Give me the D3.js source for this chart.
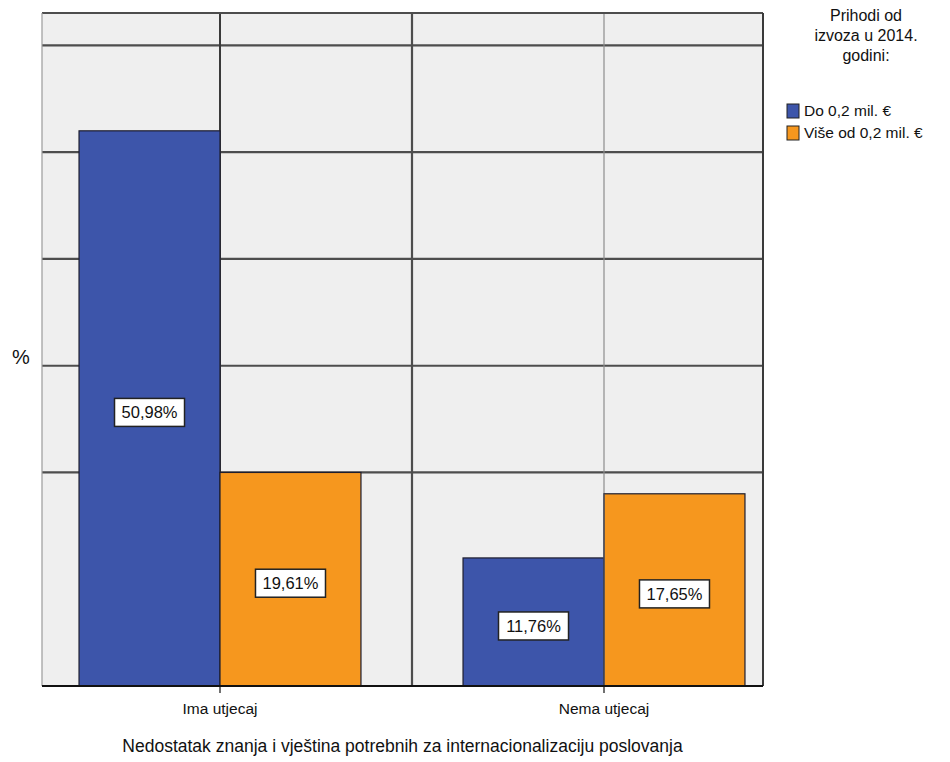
<!DOCTYPE html>
<html>
<head>
<meta charset="utf-8">
<script src="https://cdn.jsdelivr.net/npm/d3@7/dist/d3.min.js"></script>
<style>
  html, body { margin: 0; padding: 0; background: #ffffff; }
  svg { display: block; font-family: "Liberation Sans", Arial, sans-serif; }
</style>
</head>
<body>
<div id="chart"></div>
<script>
const categories = ["Ima utjecaj", "Nema utjecaj"];
const seriesNames = ["Do 0,2 mil. €", "Više od 0,2 mil. €"];
const seriesDo = [50.98, 11.76];
const seriesVise = [19.61, 17.65];
const valueLabels = [["50,98%", "11,76%"], ["19,61%", "17,65%"]];
const gridValues = [19.61, 29.41, 39.22, 49.02, 58.82];
const yMax = 61.8;
const xTitle = "Nedostatak znanja i vještina potrebnih za internacionalizaciju poslovanja";
const yTitle = "%";
const legendTitle = ["Prihodi od", "izvoza u 2014.", "godini:"];
const colors = ["#3d55aa", "#f6971e"];

const W = 950, H = 762;
const frame = { left: 42, right: 763, top: 13, bottom: 686 };

const svg = d3.select("#chart").append("svg").attr("width", W).attr("height", H);

const x = d3.scaleBand().domain(categories).range([28, 796]).paddingInner(0).paddingOuter(0);
const xs = d3.scaleBand().domain(seriesNames).range([0, x.bandwidth()]).paddingInner(0).paddingOuter(0.362);
const y = d3.scaleLinear().domain([0, yMax]).range([frame.bottom, frame.top]);

// plot background
svg.append("rect")
  .attr("x", frame.left).attr("y", frame.top)
  .attr("width", frame.right - frame.left).attr("height", frame.bottom - frame.top)
  .attr("fill", "#efefef");

// horizontal grid lines
svg.append("g").selectAll("line").data(gridValues).join("line")
  .attr("x1", frame.left).attr("x2", frame.right)
  .attr("y1", d => y(d)).attr("y2", d => y(d))
  .attr("stroke", "#4d4d4d").attr("stroke-width", 2.2);

// vertical lines: category centers and the midpoint between them
const c0 = x(categories[0]) + x.bandwidth() / 2;
const c1 = x(categories[1]) + x.bandwidth() / 2;
const vlines = [
  { x: c0, color: "#3a3a3a", w: 2 },
  { x: (c0 + c1) / 2, color: "#4d4d4d", w: 2.2 },
  { x: c1, color: "#8c8c8c", w: 1.2 }
];
svg.append("g").selectAll("line").data(vlines).join("line")
  .attr("x1", d => d.x).attr("x2", d => d.x)
  .attr("y1", frame.top).attr("y2", frame.bottom)
  .attr("stroke", d => d.color).attr("stroke-width", d => d.w);

// frame borders
svg.append("line").attr("x1", frame.left).attr("x2", frame.right).attr("y1", frame.top).attr("y2", frame.top)
  .attr("stroke", "#4d4d4d").attr("stroke-width", 2.2);
svg.append("line").attr("x1", frame.left).attr("x2", frame.left).attr("y1", frame.top).attr("y2", frame.bottom)
  .attr("stroke", "#9a9a9a").attr("stroke-width", 1.2);
svg.append("line").attr("x1", frame.right).attr("x2", frame.right).attr("y1", frame.top).attr("y2", frame.bottom)
  .attr("stroke", "#3a3a3a").attr("stroke-width", 2);

// bars
const seriesData = [seriesDo, seriesVise];
const barData = [];
seriesData.forEach((vals, si) => {
  vals.forEach((v, ci) => {
    barData.push({ cat: categories[ci], ser: seriesNames[si], v, si, ci, label: valueLabels[si][ci] });
  });
});

const bars = svg.append("g");
bars.selectAll("rect").data(barData).join("rect")
  .attr("x", d => x(d.cat) + xs(d.ser))
  .attr("y", d => y(d.v))
  .attr("width", xs.bandwidth())
  .attr("height", d => y(0) - y(d.v))
  .attr("fill", d => colors[d.si])
  .attr("stroke", "#1d1d2e").attr("stroke-width", 1.2);

// the lighter vertical line passes over the bars at the second category
svg.append("line").attr("x1", c1).attr("x2", c1).attr("y1", y(seriesVise[1])).attr("y2", frame.bottom)
  .attr("stroke", "#5a6170").attr("stroke-width", 1);

// value labels
const lab = svg.append("g").selectAll("g").data(barData).join("g")
  .attr("transform", d => `translate(${x(d.cat) + xs(d.ser) + xs.bandwidth() / 2},${(y(d.v) + y(0)) / 2 + 4})`);
lab.append("rect")
  .attr("x", -35).attr("y", -14).attr("width", 70).attr("height", 28)
  .attr("fill", "#ffffff").attr("stroke", "#222").attr("stroke-width", 1.5);
lab.append("text")
  .attr("text-anchor", "middle").attr("dy", "0.36em")
  .attr("font-size", 16.5).attr("fill", "#111")
  .text(d => d.label);

// x axis line and ticks
const xAxis = d3.axisBottom(x).tickSize(7).tickSizeOuter(0);
const gx = svg.append("g").attr("transform", `translate(0,${frame.bottom})`).call(xAxis);
gx.select(".domain").remove();
gx.append("line").attr("x1", frame.left).attr("x2", frame.right).attr("y1", 0).attr("y2", 0)
  .attr("stroke", "#111").attr("stroke-width", 2);
gx.selectAll(".tick line").attr("stroke", "#111").attr("stroke-width", 1.2);
gx.selectAll(".tick text").attr("font-size", 15.5).attr("fill", "#111")
  .attr("font-family", "Liberation Sans, Arial, sans-serif").attr("dy", "1.15em");

// axis titles
svg.append("text").attr("x", (frame.left + frame.right) / 2).attr("y", 752)
  .attr("text-anchor", "middle").attr("font-size", 17.5).attr("fill", "#111").text(xTitle);
svg.append("text").attr("x", 21).attr("y", (frame.top + frame.bottom) / 2 + 14)
  .attr("text-anchor", "middle").attr("font-size", 20).attr("fill", "#111").text(yTitle);

// legend
const lg = svg.append("g");
lg.selectAll("text.lt").data(legendTitle).join("text").attr("class", "lt")
  .attr("x", 866).attr("y", (d, i) => 21 + i * 20)
  .attr("text-anchor", "middle").attr("font-size", 16).attr("fill", "#111").text(d => d);
const li = lg.selectAll("g.li").data(seriesNames).join("g").attr("class", "li")
  .attr("transform", (d, i) => `translate(787,${104 + i * 22})`);
li.append("rect").attr("width", 12).attr("height", 14)
  .attr("fill", (d, i) => colors[i]).attr("stroke", "#222").attr("stroke-width", 1);
li.append("text").attr("x", 17).attr("y", 12).attr("font-size", 15.5).attr("fill", "#111").text(d => d);
</script>
</body>
</html>
